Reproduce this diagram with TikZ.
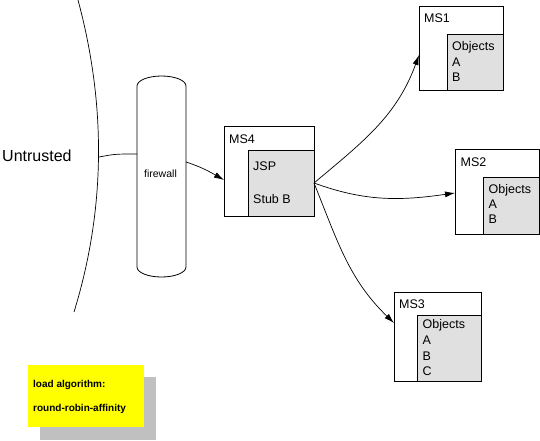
\documentclass[tikz,border=0pt]{standalone}
\usepackage{fontspec}
\setmainfont{Liberation Sans}[Ligatures=NoCommon]
\usetikzlibrary{arrows.meta}
\definecolor{innerfill}{HTML}{E0E0E0}
\definecolor{shadowc}{HTML}{C0C0C0}
\definecolor{noteyel}{HTML}{FFFF00}
\begin{document}
\begin{tikzpicture}[x=1pt,y=-1pt,
  box/.style={draw, line width=0.9pt, fill=white, inner sep=0pt, outer sep=0pt},
  innerbox/.style={draw, line width=0.9pt, fill=innerfill, inner sep=0pt, outer sep=0pt},
  lbl/.style={anchor=base west, inner sep=0pt, font=\fontsize{12.5}{14}\selectfont},
  notetxt/.style={anchor=base west, inner sep=0pt, font=\fontsize{10}{12}\selectfont\bfseries},
  curve/.style={line width=0.7pt},
  arr/.style={line width=0.7pt, -{Latex[length=10pt,width=6pt]}}]
\useasboundingbox (0,0) rectangle (540,440);

% untrusted boundary
\coordinate (btop) at (78,0);
\coordinate (bbot) at (74,312);
\draw[curve] (btop) .. controls (106,104) and (106,208) .. (bbot);
\coordinate (bmid) at (99,157);
\node[anchor=base west, inner sep=0pt, font=\fontsize{16}{18}\selectfont] (untr) at (2,161) {Untrusted};

% firewall cylinder
\draw[line width=0.8pt, fill=white] (137,86) arc[start angle=180, end angle=360, x radius=24.5, y radius=10]
  -- (186,267) arc[start angle=0, end angle=180, x radius=24.5, y radius=10] -- cycle;
\node[inner sep=0pt, outer sep=0pt, minimum width=49pt, minimum height=201pt] (fw) at (161.5,176.5) {};
\node[anchor=base, inner sep=0pt, font=\fontsize{10.5}{12}\selectfont] (fwl) at (160.5,177) {firewall};
\draw[curve] (bmid) .. controls (115,154) .. ([yshift=22.5pt]fw.west);

% MS4
\node[box, minimum width=90pt, minimum height=90pt] (ms4) at (269,171) {};
\node[innerbox, minimum width=66pt, minimum height=66pt] (ms4i) at (281,183) {};
\node[lbl] (ms4t) at (229,143) {MS4};
\node[lbl] (ms4a) at (253,170) {JSP};
\node[lbl] (ms4b) at (253,203) {Stub B};

% MS1
\node[box, minimum width=84pt, minimum height=84pt] (ms1) at (461,48) {};
\node[innerbox, minimum width=56pt, minimum height=56pt] (ms1i) at (475,62) {};
\node[lbl] (ms1t) at (424,22.5) {MS1};
\node[lbl] (ms1a) at (452,50.5) {Objects};
\node[lbl] (ms1b) at (452,66) {A};
\node[lbl] (ms1c) at (452,81) {B};

% MS2
\node[box, minimum width=84pt, minimum height=85pt] (ms2) at (497,191.5) {};
\node[innerbox, minimum width=56pt, minimum height=57pt] (ms2i) at (511,205.5) {};
\node[lbl] (ms2t) at (460.5,166.5) {MS2};
\node[lbl] (ms2a) at (488.5,193.5) {Objects};
\node[lbl] (ms2b) at (488.5,208.5) {A};
\node[lbl] (ms2c) at (488.5,223.5) {B};

% MS3
\node[box, minimum width=87pt, minimum height=89pt] (ms3) at (437.5,336.5) {};
\node[innerbox, minimum width=64pt, minimum height=66pt] (ms3i) at (449,348) {};
\node[lbl] (ms3t) at (399,308.5) {MS3};
\node[lbl] (ms3a) at (422.5,328.5) {Objects};
\node[lbl] (ms3b) at (422.5,344) {A};
\node[lbl] (ms3c) at (422.5,360) {B};
\node[lbl] (ms3d) at (422.5,375.5) {C};

% connectors
\draw[arr] ([yshift=14.5pt]fw.east) to[out=-18, in=150] ([yshift=-9pt]ms4.west);
\coordinate (src) at ([yshift=-12pt]ms4.east);
\draw[arr] (src) to[out=40, in=250] ([yshift=-7pt]ms1.west);
\draw[arr] (src) to[out=-20, in=188] ([yshift=-1.5pt]ms2.west);
\draw[arr] (src) to[out=-68, in=136] ([yshift=13.5pt]ms3.west);

% note
\fill[shadowc] (40,377) rectangle (156,440);
\node[fill=noteyel, inner sep=0pt, minimum width=116pt, minimum height=62pt] (note) at (86,396) {};
\node[notetxt] (n1) at (33,387) {load algorithm:};
\node[notetxt] (n2) at (33,411.5) {round-robin-affinity};
\end{tikzpicture}
\end{document}
